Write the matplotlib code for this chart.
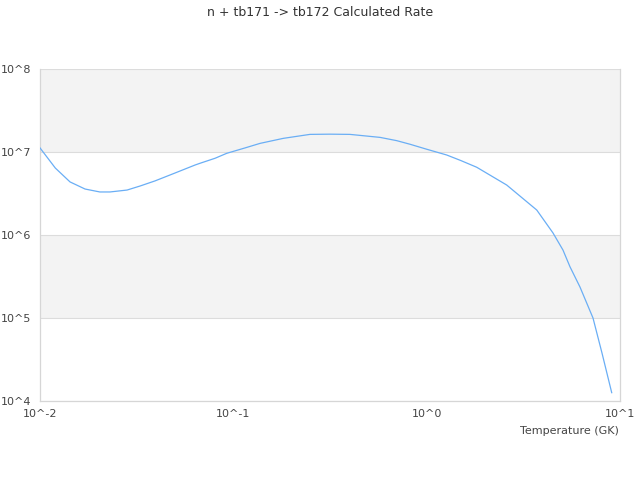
import matplotlib
matplotlib.use("Agg")
import matplotlib.pyplot as plt
from matplotlib.ticker import FixedLocator, FixedFormatter, NullLocator

title = "n + tb171 -> tb172 Calculated Rate"
xlabel = "Temperature (GK)"
temperature = [0.01, 0.012, 0.0143, 0.0171, 0.0204, 0.023, 0.0282, 0.0329, 0.0393,
               0.0499, 0.0634, 0.0672, 0.0804, 0.0924, 0.115, 0.1374, 0.1813, 0.249,
               0.316, 0.401, 0.574, 0.70, 0.82, 1.0, 1.27, 1.5, 1.815, 2.594, 3.71,
               4.5, 5.07, 5.51, 6.21, 7.25, 8.07, 9.06]
rate = [1.12e7, 6.41e6, 4.36e6, 3.58e6, 3.30e6, 3.30e6, 3.48e6, 3.89e6, 4.48e6,
        5.58e6, 6.97e6, 7.31e6, 8.40e6, 9.64e6, 1.12e7, 1.27e7, 1.46e7, 1.63e7,
        1.64e7, 1.63e7, 1.50e7, 1.37e7, 1.24e7, 1.08e7, 9.2e6, 7.9e6, 6.55e6,
        4.0e6, 2.0e6, 1.06e6, 6.59e5, 4.15e5, 2.36e5, 1.0e5, 3.78e4, 1.26e4]
ytick_vals = [1e4, 1e5, 1e6, 1e7, 1e8]
ytick_labels = ["10^4", "10^5", "10^6", "10^7", "10^8"]
xtick_vals = [0.01, 0.1, 1, 10]
xtick_labels = ["10^-2", "10^-1", "10^0", "10^1"]

fig = plt.figure(figsize=(6.4, 4.8), dpi=100)
ax = fig.add_axes([40/640, 1-401/480, 580/640, 332/480])
ax.set_xscale("log")
ax.set_yscale("log")
ax.set_xlim(0.01, 10)
ax.set_ylim(1e4, 1e8)

# alternating bands
for i in range(len(ytick_vals) - 1):
    if i % 2 == 1:
        ax.axhspan(ytick_vals[i], ytick_vals[i+1], color="#f3f3f3", zorder=0, lw=0)
for v in ytick_vals:
    ax.axhline(v, color="#dcdcdc", lw=0.8, zorder=1)

ax.plot(temperature, rate, color="#6aaef5", lw=0.9, zorder=3)

ax.yaxis.set_major_locator(FixedLocator(ytick_vals))
ax.yaxis.set_major_formatter(FixedFormatter(ytick_labels))
ax.yaxis.set_minor_locator(NullLocator())
ax.xaxis.set_major_locator(FixedLocator(xtick_vals))
ax.xaxis.set_major_formatter(FixedFormatter(xtick_labels))
ax.xaxis.set_minor_locator(NullLocator())
ax.tick_params(axis="both", length=0, labelsize=8, colors="#444444")
ax.tick_params(axis="x", pad=6)
ax.tick_params(axis="y", pad=6)

for s in ["left", "bottom", "right"]:
    ax.spines[s].set_color("#d6d6d6")
    ax.spines[s].set_linewidth(0.9)
ax.spines["top"].set_visible(False)

fig.text(0.5, 1-12/480, title, ha="center", va="center", fontsize=9, color="#333333")
fig.text(619/640, 1-431/480, xlabel, ha="right", va="center", fontsize=8, color="#444444")

fig.savefig("out.png", dpi=100)
